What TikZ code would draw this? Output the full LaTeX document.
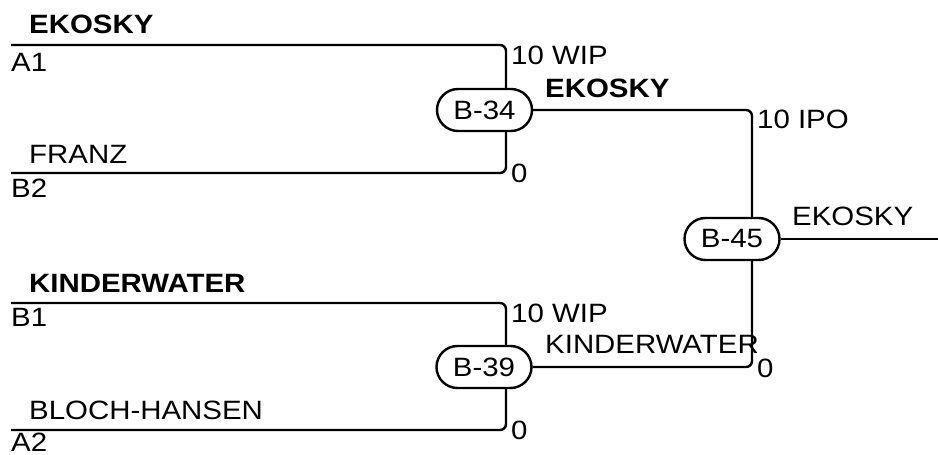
\documentclass[tikz,border=0pt]{standalone}
\usepackage{fontspec}
\setmainfont{Liberation Sans}[FakeStretch=1.11]
\begin{document}
\begin{tikzpicture}[x=1pt,y=-1pt,
  lbl/.style={anchor=base west,inner sep=0pt,font=\fontsize{26.5}{30}\selectfont},
  blbl/.style={lbl,font=\fontsize{26.5}{30}\selectfont\bfseries},
  game/.style={draw,line width=2.4pt,rounded corners=21pt,minimum width=95pt,minimum height=42pt,inner sep=0pt,font=\fontsize{26.5}{30}\selectfont},
  wire/.style={line width=2.4pt,rounded corners=6pt}]
\useasboundingbox (0,0) rectangle (938,455);
% match nodes
\node[game] (b34) at (484.5,110) {B-34};
\node[game] (b39) at (484,367) {B-39};
\node[game] (b45) at (732,239) {B-45};
% free ends
\coordinate (a1) at (11,45);
\coordinate (b2) at (11,173);
\coordinate (b1) at (11,303);
\coordinate (a2) at (11,430);
\coordinate (out) at (938,239);
% connectors
\draw[wire] (a1) -| ([xshift=21.5pt]b34.north);
\draw[wire] (b2) -| ([xshift=21.5pt]b34.south);
\draw[wire] (b1) -| ([xshift=22pt]b39.north);
\draw[wire] (a2) -| ([xshift=22pt]b39.south);
\draw[wire] (b34.east) -| ([xshift=20pt]b45.north);
\draw[wire] (b39.east) -| ([xshift=20pt]b45.south);
\draw[wire] (b45.east) -- (out);
% labels
\node[blbl] (l1) at (29,34) {EKOSKY};
\node[lbl] (l2) at (11,71) {A1};
\node[lbl] (l3) at (29,163) {FRANZ};
\node[lbl] (l4) at (11,197) {B2};
\node[lbl] (l5) at (511,64) {10 WIP};
\node[blbl] (l6) at (545,97) {EKOSKY};
\node[lbl] (l7) at (511,182) {0};
\node[lbl] (l8) at (757,128) {10 IPO};
\node[lbl] (l9) at (792,225) {EKOSKY};
\node[blbl] (l10) at (29,292) {KINDERWATER};
\node[lbl] (l11) at (11,326) {B1};
\node[lbl] (l12) at (511,322) {10 WIP};
\node[lbl] (l13) at (545,353) {KINDERWATER};
\node[lbl] (l14) at (757,377) {0};
\node[lbl] (l15) at (29,419) {BLOCH-HANSEN};
\node[lbl] (l16) at (11,451) {A2};
\node[lbl] (l17) at (511,439) {0};
\end{tikzpicture}
\end{document}
